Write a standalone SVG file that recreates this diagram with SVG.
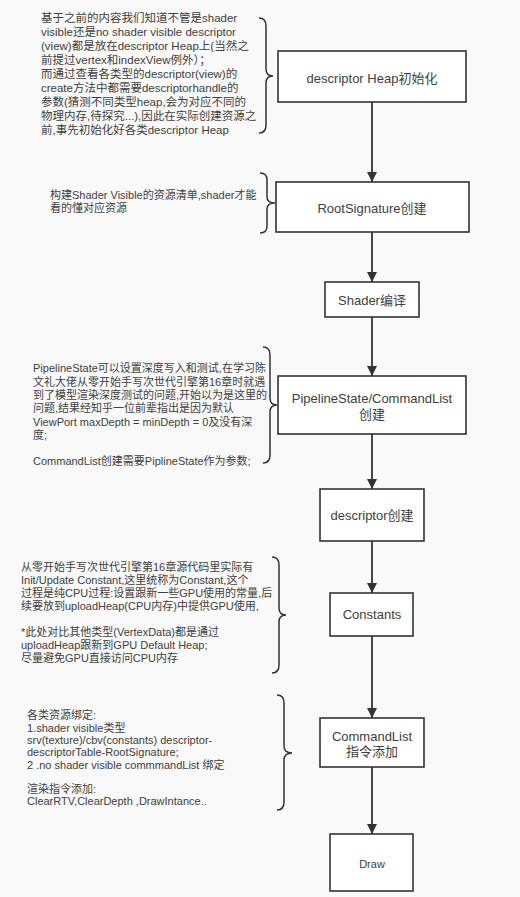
<svg xmlns="http://www.w3.org/2000/svg" width="520" height="897" viewBox="0 0 520 897">
<style>
.bg{fill:#f9f9f9}
.box{fill:#ffffff;stroke:#333333;stroke-width:1.6}
.lbl{font-family:"Liberation Sans","Noto Sans CJK SC",sans-serif;font-size:13px;fill:#404040;text-anchor:middle}
.note{font-family:"Liberation Sans","Noto Sans CJK SC",sans-serif;font-size:11px;fill:#404040}
.big{font-size:11.5px}
.brace{fill:none;stroke:#333333;stroke-width:1.5}
.edge{stroke:#333333;stroke-width:1.8;fill:none;marker-end:url(#arr)}
</style>
<defs>
<marker id="arr" markerUnits="userSpaceOnUse" markerWidth="10" markerHeight="14" refX="10" refY="5" orient="auto">
<path d="M0,0 L10,5 L0,10 z" fill="#333333"/>
</marker>
</defs>
<rect class="bg" x="0" y="0" width="520" height="897"/>

<g id="connectors">
<line class="edge" x1="372" y1="102" x2="372" y2="182"/>
<line class="edge" x1="372" y1="232" x2="372" y2="282"/>
<line class="edge" x1="372" y1="317" x2="372" y2="376"/>
<line class="edge" x1="372" y1="434" x2="372" y2="489"/>
<line class="edge" x1="372" y1="541" x2="372" y2="593"/>
<line class="edge" x1="372" y1="636" x2="372" y2="718"/>
<line class="edge" x1="372" y1="767" x2="372" y2="834"/>
</g>

<g id="node-heap-init">
<rect class="box" x="278" y="51" width="188" height="51"/>
<text class="lbl" x="372" y="82.5">descriptor Heap初始化</text>
</g>
<g id="node-rootsig">
<rect class="box" x="276" y="182" width="193" height="50"/>
<text class="lbl" x="372" y="212.5">RootSignature创建</text>
</g>
<g id="node-shader">
<rect class="box" x="325" y="282" width="94" height="35"/>
<text class="lbl" x="372" y="304.5">Shader编译</text>
</g>
<g id="node-pso">
<rect class="box" x="278" y="376" width="188" height="58"/>
<text class="lbl" x="372" y="402.5">PipelineState/CommandList</text>
<text class="lbl" x="372" y="418.5">创建</text>
</g>
<g id="node-desc">
<rect class="box" x="320" y="489" width="104" height="52"/>
<text class="lbl" x="372" y="520">descriptor创建</text>
</g>
<g id="node-constants">
<rect class="box" x="330" y="593" width="83" height="43"/>
<text class="lbl" x="372" y="619">Constants</text>
</g>
<g id="node-cmdlist">
<rect class="box" x="320" y="718" width="104" height="49"/>
<text class="lbl" x="372" y="740.5">CommandList</text>
<text class="lbl" x="372" y="755.5">指令添加</text>
</g>
<g id="node-draw">
<rect class="box" x="330" y="834" width="83" height="57"/>
<text class="lbl" x="372" y="868" style="font-size:11px">Draw</text>
</g>

<g id="note-heap">
<path class="brace" d="M259,18 Q266,18 266,26 L266,69 Q266,76 273,76 Q266,76 266,83 L266,125 Q266,133 259,133"/>
<text class="note big" x="41" y="22">基于之前的内容我们知道不管是shader</text>
<text class="note big" x="41" y="36">visible还是no shader visible descriptor</text>
<text class="note big" x="41" y="50">(view)都是放在descriptor Heap上(当然之</text>
<text class="note big" x="41" y="64">前提过vertex和indexView例外）；</text>
<text class="note big" x="41" y="78">而通过查看各类型的descriptor(view)的</text>
<text class="note big" x="41" y="92">create方法中都需要descriptorhandle的</text>
<text class="note big" x="41" y="106">参数(猜测不同类型heap,会为对应不同的</text>
<text class="note big" x="41" y="120">物理内存,待探究...),因此在实际创建资源之</text>
<text class="note big" x="41" y="134">前,事先初始化好各类descriptor Heap</text>
</g>

<g id="note-rootsig">
<path class="brace" d="M260,173 Q267,173 267,180 L267,197 Q267,203 275,203 Q267,203 267,209 L267,226 Q267,233 260,233"/>
<text class="note" x="50" y="199">构建Shader Visible的资源清单,shader才能</text>
<text class="note" x="50" y="212">看的懂对应资源</text>
</g>

<g id="note-pso">
<path class="brace" d="M263,347 Q270,347 270,355 L270,398 Q270,405 277,405 Q270,405 270,412 L270,455 Q270,463 263,463"/>
<text class="note" x="33" y="372">PipelineState可以设置深度写入和测试,在学习陈</text>
<text class="note" x="33" y="385.5">文礼大佬从零开始手写次世代引擎第16章时就遇</text>
<text class="note" x="33" y="399">到了模型渲染深度测试的问题,开始以为是这里的</text>
<text class="note" x="33" y="412">问题,结果经知乎一位前辈指出是因为默认</text>
<text class="note" x="33" y="425.5">ViewPort maxDepth = minDepth = 0及没有深</text>
<text class="note" x="33" y="439">度;</text>
<text class="note" x="33" y="465">CommandList创建需要PiplineState作为参数;</text>
</g>

<g id="note-constants">
<path class="brace" d="M272,557 Q279,557 279,565 L279,608 Q279,615 286,615 Q279,615 279,622 L279,665 Q279,673 272,673"/>
<text class="note" x="21" y="571">从零开始手写次世代引擎第16章源代码里实际有</text>
<text class="note" x="21" y="584">Init/Update Constant,这里统称为Constant,这个</text>
<text class="note" x="21" y="597">过程是纯CPU过程:设置跟新一些GPU使用的常量,后</text>
<text class="note" x="21" y="610">续要放到uploadHeap(CPU内存)中提供GPU使用,</text>
<text class="note" x="21" y="636">*此处对比其他类型(VertexData)都是通过</text>
<text class="note" x="21" y="649">uploadHeap跟新到GPU Default Heap;</text>
<text class="note" x="21" y="662">尽量避免GPU直接访问CPU内存</text>
</g>

<g id="note-cmdlist">
<path class="brace" d="M277,695 Q284,695 284,703 L284,746 Q284,753 292,753 Q284,753 284,760 L284,802 Q284,810 277,810"/>
<text class="note" x="27" y="719">各类资源绑定:</text>
<text class="note" x="27" y="731.5">1.shader visible类型</text>
<text class="note" x="27" y="744">srv(texture)/cbv(constants) descriptor-</text>
<text class="note" x="27" y="756">descriptorTable-RootSignature;</text>
<text class="note" x="27" y="768.5">2 .no shader visible commmandList 绑定</text>
<text class="note" x="27" y="793">渲染指令添加:</text>
<text class="note" x="27" y="805">ClearRTV,ClearDepth ,DrawIntance..</text>
</g>
</svg>
